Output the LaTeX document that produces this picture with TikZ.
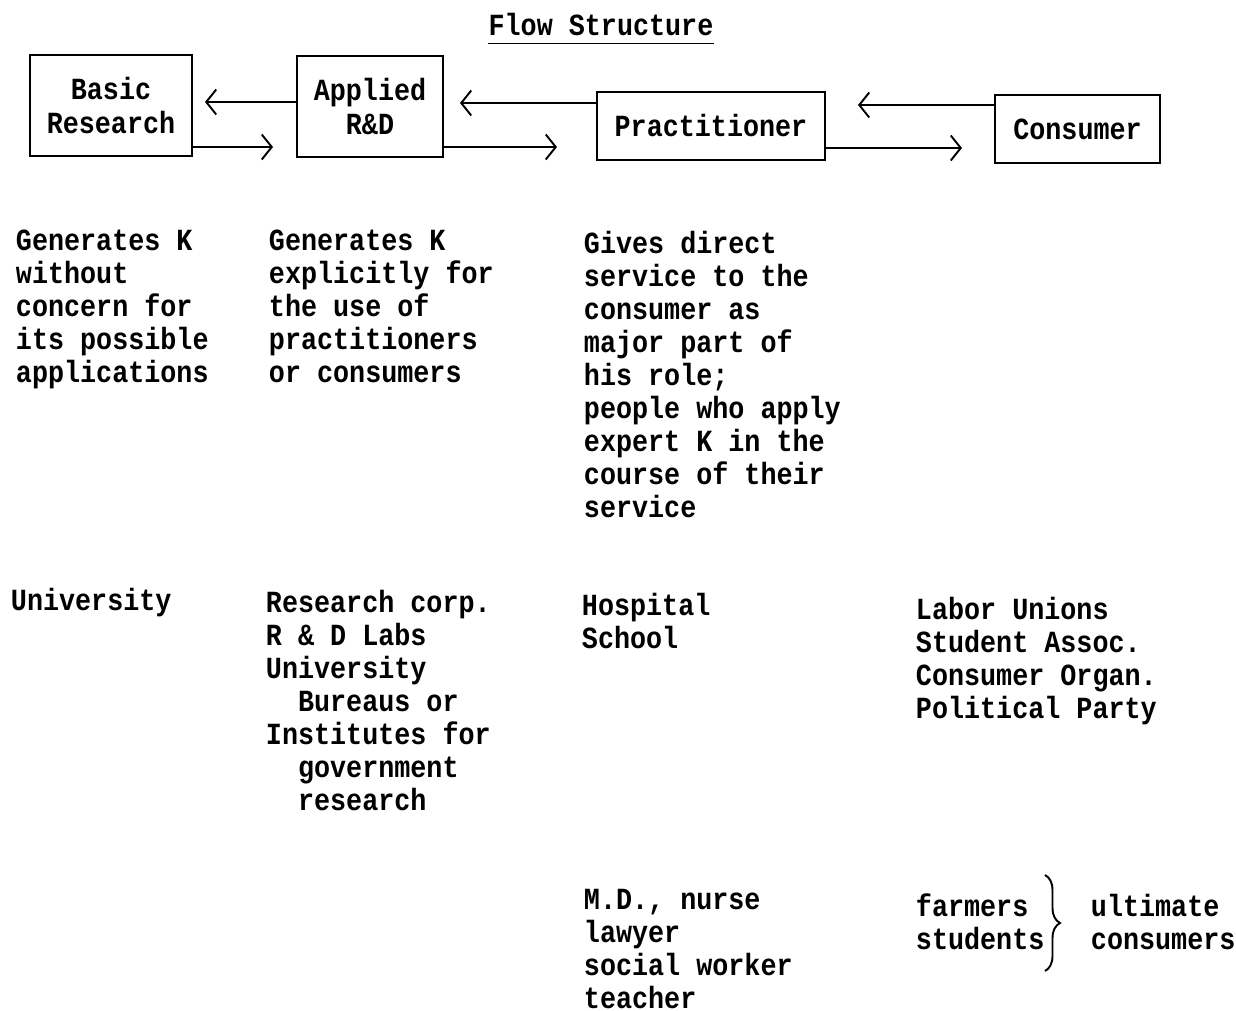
\documentclass[tikz,border=0pt]{standalone}
\usepackage{fontspec}
\newfontfamily\typewriter{Liberation Mono}[FakeStretch=0.87]
\usetikzlibrary{arrows.meta,decorations.pathreplacing}
\begin{document}
\begin{tikzpicture}[x=0.02cm,y=-0.02cm,line width=1.1pt,
    every node/.style={font=\typewriter\bfseries\fontsize{17.5}{18.8}\selectfont,inner sep=0pt},
    box/.style={draw,align=center},
    txt/.style={anchor=north west,align=left},
    flow/.style={-{Straight Barb[length=0.2cm,width=0.5cm,line width=1.1pt]}}]
                \useasboundingbox (0,0) rectangle (1236,1010);
                % title
                \node[anchor=base] (title) at (601,36) {Flow Structure};
                \draw ([yshift=-0.15cm]title.base west) -- ([yshift=-0.15cm]title.base east);
                % boxes
                \node[box,minimum width=3.24cm,minimum height=2.02cm] (basic) at (111,105.5) {Basic\\Research};
                \node[box,minimum width=2.92cm,minimum height=2.02cm] (applied) at (370,106.5) {Applied\\R\&D};
                \node[box,minimum width=4.56cm,minimum height=1.36cm] (pract) at (711,126) {Practitioner};
                \node[box,minimum width=3.3cm,minimum height=1.36cm] (consumer) at (1077.5,129) {Consumer};
                % arrow ends
                \coordinate (t1) at (205,102);
                \coordinate (t2) at (273,147);
                \coordinate (t3) at (460,103);
                \coordinate (t4) at (557,147);
                \coordinate (t5) at (858,105);
                \coordinate (t6) at (962,148);
                \draw[flow] (applied.west |- t1) -- (t1);
                \draw[flow] (basic.east |- t2) -- (t2);
                \draw[flow] (pract.west |- t3) -- (t3);
                \draw[flow] (applied.east |- t4) -- (t4);
                \draw[flow] (consumer.west |- t5) -- (t5);
                \draw[flow] (pract.east |- t6) -- (t6);
                % descriptions
                \node[txt] (dbasic) at (15,229) {Generates K\\without\\concern for\\its possible\\applications};
                \node[txt] (dapplied) at (268,229) {Generates K\\explicitly for\\the use of\\practitioners\\or consumers};
                \node[txt] (dpract) at (583,230) {Gives direct\\service to the\\consumer as\\major part of\\his role;\\people who apply\\expert K in the\\course of their\\service};
                % institutions
                \node[txt] (ibasic) at (10,587) {University};
                \node[txt] (iapplied) at (265,589) {Research corp.\\R \& D Labs\\University\\\ \ Bureaus or\\Institutes for\\\ \ government\\\ \ research};
                \node[txt] (ipract) at (581,592) {Hospital\\School};
                \node[txt] (iconsumer) at (915,596) {Labor Unions\\Student Assoc.\\Consumer Organ.\\Political Party};
                % people
                \node[txt] (ppract) at (583,888) {M.D., nurse\\lawyer\\social worker\\teacher};
                \node[txt] (pconsumer) at (915,893) {farmers\\students};
                \node[txt] (ultimate) at (1090,893) {ultimate\\consumers};
                \coordinate (b1) at (1045,875);
                \coordinate (b2) at (1045,971);
                \draw[decorate,decoration={brace,amplitude=0.3cm}] (b1) -- (b2);
            \end{tikzpicture}
\end{document}
